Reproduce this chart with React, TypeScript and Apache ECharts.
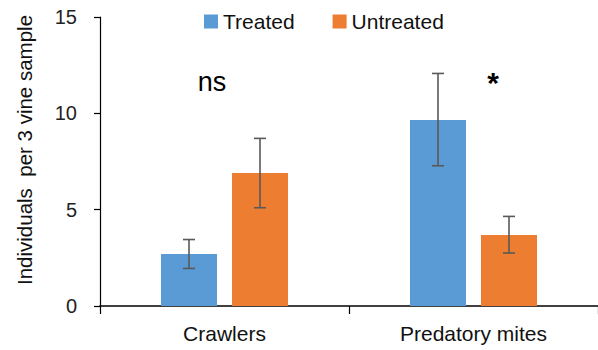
import React, { useEffect, useRef } from "react";
import * as echarts from "echarts";

const categories = ["Crawlers", "Predatory mites"];
const treated = [2.7, 9.65];
const untreated = [6.9, 3.68];
const treatedErrLow = [1.95, 7.28];
const treatedErrHigh = [3.45, 12.07];
const untreatedErrLow = [5.1, 2.75];
const untreatedErrHigh = [8.7, 4.65];
const annotations = ["ns", "*"];
const yTitle = "Individuals  per 3 vine sample";

const BAR_W = 56;
const BAR_GAP = 15;
const FONT = "'Liberation Sans', 'Noto Sans', sans-serif";

function errSeries(name: string, low: number[], high: number[], dir: number) {
  return {
    type: "custom",
    name,
    silent: true,
    z: 5,
    data: low.map((l, i) => [i, l, high[i]]),
    renderItem: (params: any, api: any) => {
      const c = api.value(0);
      const lo = api.coord([c, api.value(1)]);
      const hi = api.coord([c, api.value(2)]);
      const x = lo[0] + dir * (BAR_W / 2 + BAR_GAP / 2);
      const cap = 6;
      const style = { stroke: "#595959", lineWidth: 1.6 };
      return {
        type: "group",
        children: [
          { type: "line", shape: { x1: x, y1: hi[1], x2: x, y2: lo[1] }, style },
          { type: "line", shape: { x1: x - cap, y1: hi[1], x2: x + cap, y2: hi[1] }, style },
          { type: "line", shape: { x1: x - cap, y1: lo[1], x2: x + cap, y2: lo[1] }, style },
        ],
      };
    },
  };
}

export default function App() {
  const ref = useRef<HTMLDivElement>(null);
  useEffect(() => {
    const chart = echarts.init(ref.current!, undefined, { renderer: "svg" });
    chart.setOption({
      animation: false,
      textStyle: { fontFamily: FONT },
      legend: {
        top: 11,
        left: 204,
        padding: 0,
        itemWidth: 14,
        itemHeight: 14,
        itemGap: 38,
        icon: "rect",
        data: ["Treated", "Untreated"],
        textStyle: { fontSize: 21, color: "#111", fontFamily: FONT },
      },
      grid: { left: 100, right: -2, top: 17, bottom: 44, containLabel: false },
      xAxis: {
        type: "category",
        data: categories,
        axisLine: { lineStyle: { color: "#000", width: 1.5 } },
        axisTick: { show: true, length: 8, lineStyle: { color: "#000", width: 1.2 } },
        axisLabel: { fontSize: 21, color: "#111", margin: 17, fontFamily: FONT },
      },
      yAxis: {
        type: "value",
        min: 0,
        max: 15,
        interval: 5,
        axisLine: { show: true, lineStyle: { color: "#000", width: 1.2 } },
        axisTick: { show: true, length: 6, lineStyle: { color: "#000", width: 1.2 } },
        splitLine: { show: false },
        axisLabel: { fontSize: 20, color: "#222", margin: 23, fontFamily: FONT },
      },
      series: [
        {
          type: "bar",
          name: "Treated",
          data: treated,
          barWidth: BAR_W,
          barGap: `${(BAR_GAP / BAR_W) * 100}%`,
          itemStyle: { color: "#5B9BD5" },
        },
        {
          type: "bar",
          name: "Untreated",
          data: untreated,
          barWidth: BAR_W,
          itemStyle: { color: "#ED7D31" },
        },
        errSeries("errT", treatedErrLow, treatedErrHigh, -1),
        errSeries("errU", untreatedErrLow, untreatedErrHigh, 1),
      ],
      graphic: [
        { type: "text", x: 24, y: 150, rotation: Math.PI / 2, style: { text: yTitle, fontSize: 20.5, fill: "#111", fontFamily: FONT, align: "center", verticalAlign: "middle" } },
        { type: "text", x: 212, y: 82, style: { text: annotations[0], fontSize: 27, fill: "#000", fontFamily: FONT, align: "center", verticalAlign: "middle" } },
        { type: "text", x: 493, y: 82, style: { text: annotations[1], fontSize: 30, fontWeight: "bold", fill: "#000", fontFamily: FONT, align: "center", verticalAlign: "middle" } },
      ],
    });
    return () => chart.dispose();
  }, []);
  return <div ref={ref} style={{ width: 598, height: 350, position: "absolute", left: 0, top: 0 }} />;
}
